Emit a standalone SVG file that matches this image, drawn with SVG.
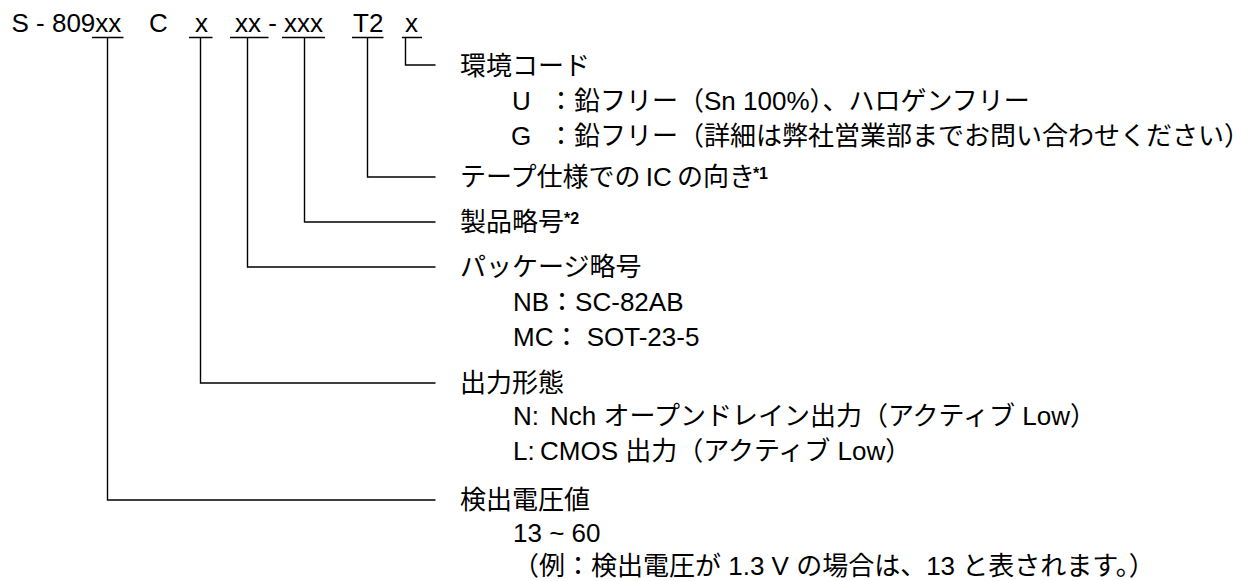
<svg xmlns="http://www.w3.org/2000/svg" width="1253" height="581" viewBox="0 0 1253 581">
<style>
text { font-family: "Liberation Sans", "Noto Sans CJK JP", sans-serif; font-size: 26px; fill: #000; }
.sup { font-size: 16px; font-weight: bold; }
.ln { fill: none; stroke: #000; stroke-width: 1.4; }
</style>
<rect width="1253" height="581" fill="#fff"/>
<g id="part-number">
  <text x="11.5" y="32">S - 809xx</text>
  <text x="149" y="32">C</text>
  <text x="195" y="32">x</text>
  <text x="235" y="32">xx - xxx</text>
  <text x="353" y="32">T2</text>
  <text x="405" y="32">x</text>
  <path class="ln" d="M92 37.5H123.5M189 37.5H212.5M230 37.5H268.5M282 37.5H325M352 37.5H383.5M402 37.5H422"/>
</g>
<g id="connectors">
  <path class="ln" d="M107.5 37.5V500H435.5"/>
  <path class="ln" d="M200.5 37.5V383H435.5"/>
  <path class="ln" d="M247.5 37.5V267H435.5"/>
  <path class="ln" d="M304.5 37.5V222H435.5"/>
  <path class="ln" d="M367.5 37.5V177H435.5"/>
  <path class="ln" d="M405.5 37.5V65H435.5"/>
</g>
<g id="env-code">
  <text x="460" y="75">環境コード</text>
  <text x="512" y="110">U<tspan x="548">：鉛フリー（Sn 100%）、ハロゲンフリー</tspan></text>
  <text x="511" y="145">G<tspan x="548">：鉛フリー（詳細は弊社営業部までお問い合わせください）</tspan></text>
</g>
<g id="tape-orientation">
  <text x="460" y="186" word-spacing="-2">テープ仕様での IC の向き<tspan class="sup" dx="-2" dy="-7">*1</tspan></text>
</g>
<g id="product-code">
  <text x="460" y="231">製品略号<tspan class="sup" dy="-7">*2</tspan></text>
</g>
<g id="package-code">
  <text x="460" y="276">パッケージ略号</text>
  <text x="513" y="311">NB：SC-82AB</text>
  <text x="513" y="346">MC： SOT-23-5</text>
</g>
<g id="output-type">
  <text x="460" y="392">出力形態</text>
  <text x="513" y="425">N:<tspan x="550">Nch オープンドレイン出力（アクティブ Low）</tspan></text>
  <text x="513" y="460">L:<tspan x="540">CMOS 出力（アクティブ Low）</tspan></text>
</g>
<g id="detect-voltage">
  <text x="460" y="509">検出電圧値</text>
  <text x="513" y="542">13 ~ 60</text>
  <text x="513" y="575">（例：検出電圧が 1.3 V の場合は、13 と表されます。）</text>
</g>
</svg>
